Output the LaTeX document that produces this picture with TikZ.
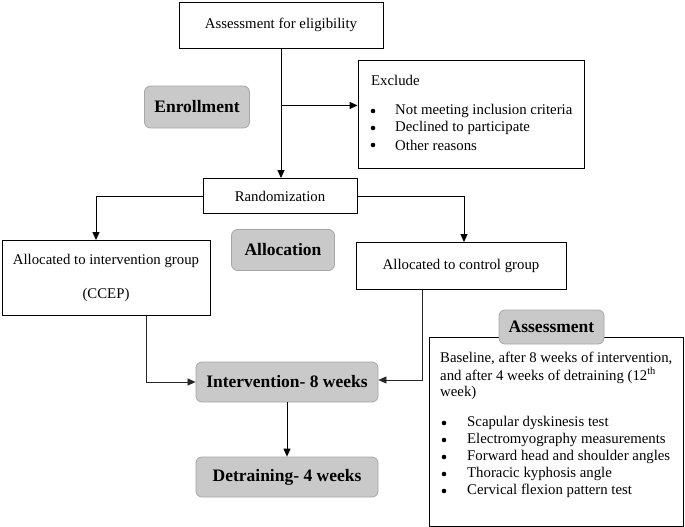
\documentclass[tikz,border=0pt]{standalone}
\usepackage{fontspec}
\setmainfont{Liberation Serif}
\usetikzlibrary{arrows.meta,calc}
\definecolor{tagfill}{HTML}{C9C9C9}
\definecolor{tagline}{HTML}{A6A6A6}
\begin{document}
\begin{tikzpicture}[x=1pt,y=-1pt,
  box/.style={draw=black, line width=0.9pt, fill=white, font=\fontsize{14.8}{17}\selectfont, inner sep=0pt},
  tag/.style={draw=tagline, fill=tagfill, rounded corners=6pt, line width=0.8pt, font=\fontsize{17.5}{20}\selectfont\bfseries, inner sep=0pt},
  txt/.style={font=\fontsize{14.8}{17}\selectfont, inner sep=0pt, anchor=west},
  bul/.style={circle, fill=black, draw=none, inner sep=0pt, minimum size=4.6pt},
  arr/.style={-{Triangle[length=8pt,width=7pt]}, line width=0.9pt},
  thinln/.style={line width=0.7pt, draw=black!85}
]
\useasboundingbox (0,0) rectangle (685,527);

\node[box, minimum width=204pt, minimum height=46pt] (elig) at (281,25) {Assessment for eligibility};

\node[box, minimum width=226pt, minimum height=108pt] (excl) at (471,114) {};
\node[txt] (exT) at (371,80) {Exclude};
\node[bul] (xb1) at (373,111) {};
\node[txt] (xt1) at (395,111) {Not meeting inclusion criteria};
\node[bul] (xb2) at (373,128) {};
\node[txt] (xt2) at (395,128) {Declined to participate};
\node[bul] (xb3) at (373,145) {};
\node[txt] (xt3) at (395,145) {Other reasons};

\node[tag, minimum width=105pt, minimum height=42pt] (enr) at (197,107) {Enrollment};

\node[box, minimum width=154pt, minimum height=35pt] (rand) at (280,196) {Randomization};

\node[box, minimum width=208pt, minimum height=75pt, align=center] (intv) at (106,278) {Allocated to intervention group\\[17pt](CCEP)};

\node[tag, minimum width=103pt, minimum height=41pt] (alloc) at (283,250) {Allocation};

\node[box, minimum width=210pt, minimum height=47pt] (ctrl) at (461,266) {Allocated to control group};

\node[tag, minimum width=182pt, minimum height=40pt] (iv) at (287,382) {Intervention- 8 weeks};
\node[tag, minimum width=182pt, minimum height=40pt] (det) at (287,477) {Detraining- 4 weeks};

\node[box, minimum width=254pt, minimum height=189pt] (asm) at (556,431.5) {};
\node[tag, minimum width=105pt, minimum height=34pt] (asmT) at (551.5,327) {Assessment};
\node[txt] (a1) at (440,358) {Baseline, after 8 weeks of intervention,};
\node[txt] (a2) at (440,375.5) {and after 4 weeks of detraining (12\textsuperscript{th}};
\node[txt] (a3) at (440,393) {week)};
\node[bul] (ab1) at (444,423) {};
\node[txt] (at1) at (467,423) {Scapular dyskinesis test};
\node[bul] (ab2) at (444,440) {};
\node[txt] (at2) at (467,440) {Electromyography measurements};
\node[bul] (ab3) at (444,457) {};
\node[txt] (at3) at (467,457) {Forward head and shoulder angles};
\node[bul] (ab4) at (444,474) {};
\node[txt] (at4) at (467,474) {Thoracic kyphosis angle};
\node[bul] (ab5) at (444,491) {};
\node[txt] (at5) at (467,491) {Cervical flexion pattern test};

% connectors
\draw[arr] (elig.south) -- (elig.south |- rand.north);
\path (elig.south) ++(0,57) coordinate (br);
\draw[arr] (br) -- (br -| excl.west);
\draw[arr] (rand.west) -| ([xshift=-10pt]intv.north);
\draw[arr] (rand.east) -| ([xshift=3pt]ctrl.north);
\draw[arr, thinln] ([xshift=40pt]intv.south) |- (iv.west);
\draw[arr, thinln] ([xshift=-39pt]ctrl.south) |- ([yshift=2pt]iv.east);
\draw[arr] (iv) -- (det);
\end{tikzpicture}
\end{document}
